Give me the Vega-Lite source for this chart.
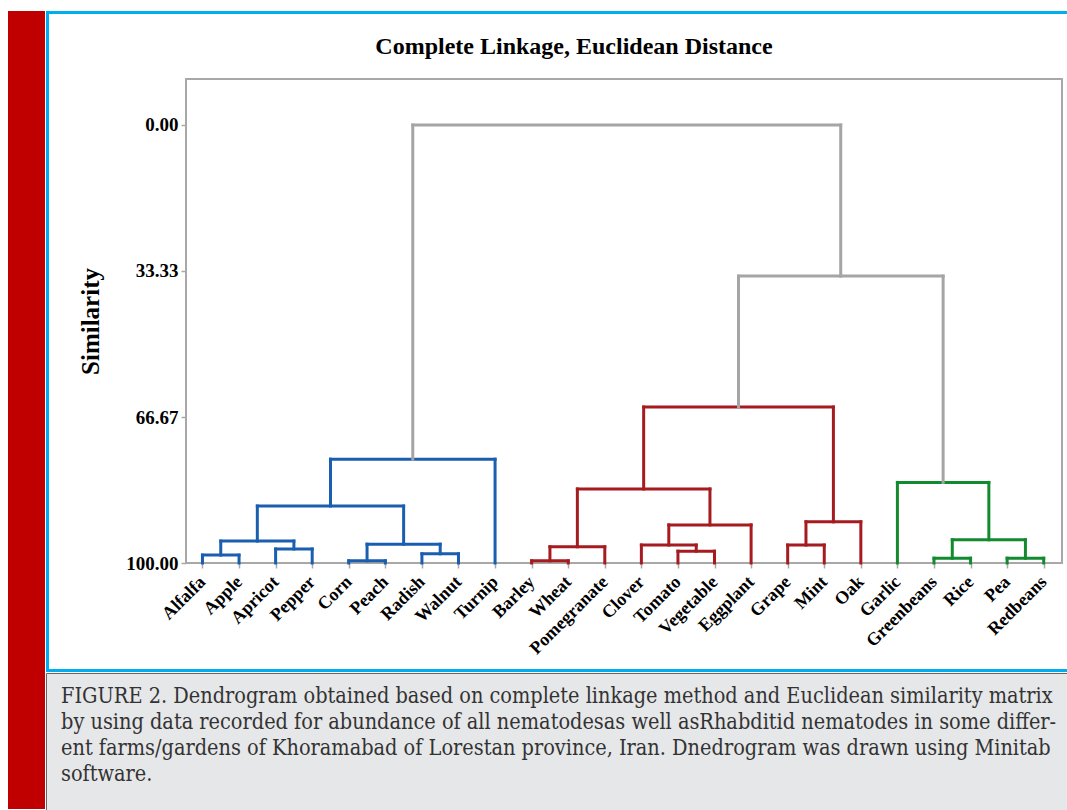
{
  "$schema": "https://vega.github.io/schema/vega-lite/v6.json",
  "background": "white",
  "padding": {"left": 8, "top": 11, "right": 0, "bottom": 0},
  "config": {"view": {"stroke": null}},
  "spacing": 0,
  "hconcat": [
    {"width": 37, "height": 798, "data": {"values": []}, "mark": "rect", "view": {"fill": "#c00000", "stroke": null}},
    {
      "spacing": 0,
      "vconcat": [
        {
          "columns": 4,
          "spacing": 0,
          "bounds": "flush",
          "align": "each",
          "concat": [
            {"width": 3, "height": 3, "data": {"values": []}, "mark": "rect", "view": {"fill": "#00aeef", "stroke": null}},
            {"width": 137, "height": 3, "data": {"values": []}, "mark": "rect", "view": {"fill": "#00aeef", "stroke": null}},
            {"width": 876, "height": 3, "data": {"values": []}, "mark": "rect", "view": {"fill": "#00aeef", "stroke": null}},
            {"width": 10, "height": 3, "data": {"values": []}, "mark": "rect", "view": {"fill": "#00aeef", "stroke": null}},

            {"width": 3, "height": 65, "data": {"values": []}, "mark": "rect", "view": {"fill": "#00aeef", "stroke": null}},
            {"width": 137, "height": 65, "data": {"values": []}, "mark": "rect"},
            {"width": 876, "height": 65, "data": {"values": []}, "mark": "rect"},
            {"width": 10, "height": 65, "data": {"values": []}, "mark": "rect"},

            {"width": 3, "height": 484, "data": {"values": []}, "mark": "rect", "view": {"fill": "#00aeef", "stroke": null}},
            {"width": 137, "height": 484, "data": {"values": []}, "mark": "rect"},
            {
              "width": 876,
              "height": 484,
              "view": {"stroke": "#a8a8a8", "strokeWidth": 2, "fill": null},
              "title": {"text": "Complete Linkage, Euclidean Distance", "font": "Liberation Serif", "fontSize": 24, "fontWeight": "bold", "color": "#000000", "frame": "group", "anchor": "middle", "dx": -50, "offset": 20},
              "data": {"values": [
                {"x": 0, "x2": 1, "y": 98.2, "y2": 98.2, "c": "blue"},
                {"x": 0, "x2": 0, "y": 100, "y2": 98.2, "c": "blue"},
                {"x": 1, "x2": 1, "y": 100, "y2": 98.2, "c": "blue"},
                {"x": 2, "x2": 3, "y": 96.8, "y2": 96.8, "c": "blue"},
                {"x": 2, "x2": 2, "y": 100, "y2": 96.8, "c": "blue"},
                {"x": 3, "x2": 3, "y": 100, "y2": 96.8, "c": "blue"},
                {"x": 0.5, "x2": 2.5, "y": 95.0, "y2": 95.0, "c": "blue"},
                {"x": 0.5, "x2": 0.5, "y": 98.2, "y2": 95.0, "c": "blue"},
                {"x": 2.5, "x2": 2.5, "y": 96.8, "y2": 95.0, "c": "blue"},
                {"x": 4, "x2": 5, "y": 99.5, "y2": 99.5, "c": "blue"},
                {"x": 4, "x2": 4, "y": 100, "y2": 99.5, "c": "blue"},
                {"x": 5, "x2": 5, "y": 100, "y2": 99.5, "c": "blue"},
                {"x": 6, "x2": 7, "y": 97.9, "y2": 97.9, "c": "blue"},
                {"x": 6, "x2": 6, "y": 100, "y2": 97.9, "c": "blue"},
                {"x": 7, "x2": 7, "y": 100, "y2": 97.9, "c": "blue"},
                {"x": 4.5, "x2": 6.5, "y": 95.7, "y2": 95.7, "c": "blue"},
                {"x": 4.5, "x2": 4.5, "y": 99.5, "y2": 95.7, "c": "blue"},
                {"x": 6.5, "x2": 6.5, "y": 97.9, "y2": 95.7, "c": "blue"},
                {"x": 1.5, "x2": 5.5, "y": 87.0, "y2": 87.0, "c": "blue"},
                {"x": 1.5, "x2": 1.5, "y": 95.0, "y2": 87.0, "c": "blue"},
                {"x": 5.5, "x2": 5.5, "y": 95.7, "y2": 87.0, "c": "blue"},
                {"x": 3.5, "x2": 8, "y": 76.3, "y2": 76.3, "c": "blue"},
                {"x": 3.5, "x2": 3.5, "y": 87.0, "y2": 76.3, "c": "blue"},
                {"x": 8, "x2": 8, "y": 100, "y2": 76.3, "c": "blue"},
                {"x": 9, "x2": 10, "y": 99.5, "y2": 99.5, "c": "red"},
                {"x": 9, "x2": 9, "y": 100, "y2": 99.5, "c": "red"},
                {"x": 10, "x2": 10, "y": 100, "y2": 99.5, "c": "red"},
                {"x": 9.5, "x2": 11, "y": 96.3, "y2": 96.3, "c": "red"},
                {"x": 9.5, "x2": 9.5, "y": 99.5, "y2": 96.3, "c": "red"},
                {"x": 11, "x2": 11, "y": 100, "y2": 96.3, "c": "red"},
                {"x": 13, "x2": 14, "y": 97.3, "y2": 97.3, "c": "red"},
                {"x": 13, "x2": 13, "y": 100, "y2": 97.3, "c": "red"},
                {"x": 14, "x2": 14, "y": 100, "y2": 97.3, "c": "red"},
                {"x": 12, "x2": 13.5, "y": 95.9, "y2": 95.9, "c": "red"},
                {"x": 12, "x2": 12, "y": 100, "y2": 95.9, "c": "red"},
                {"x": 13.5, "x2": 13.5, "y": 97.3, "y2": 95.9, "c": "red"},
                {"x": 12.75, "x2": 15, "y": 91.3, "y2": 91.3, "c": "red"},
                {"x": 12.75, "x2": 12.75, "y": 95.9, "y2": 91.3, "c": "red"},
                {"x": 15, "x2": 15, "y": 100, "y2": 91.3, "c": "red"},
                {"x": 10.25, "x2": 13.875, "y": 83.1, "y2": 83.1, "c": "red"},
                {"x": 10.25, "x2": 10.25, "y": 96.3, "y2": 83.1, "c": "red"},
                {"x": 13.875, "x2": 13.875, "y": 91.3, "y2": 83.1, "c": "red"},
                {"x": 16, "x2": 17, "y": 95.9, "y2": 95.9, "c": "red"},
                {"x": 16, "x2": 16, "y": 100, "y2": 95.9, "c": "red"},
                {"x": 17, "x2": 17, "y": 100, "y2": 95.9, "c": "red"},
                {"x": 16.5, "x2": 18, "y": 90.6, "y2": 90.6, "c": "red"},
                {"x": 16.5, "x2": 16.5, "y": 95.9, "y2": 90.6, "c": "red"},
                {"x": 18, "x2": 18, "y": 100, "y2": 90.6, "c": "red"},
                {"x": 12.0625, "x2": 17.25, "y": 64.4, "y2": 64.4, "c": "red"},
                {"x": 12.0625, "x2": 12.0625, "y": 83.1, "y2": 64.4, "c": "red"},
                {"x": 17.25, "x2": 17.25, "y": 90.6, "y2": 64.4, "c": "red"},
                {"x": 20, "x2": 21, "y": 98.9, "y2": 98.9, "c": "green"},
                {"x": 20, "x2": 20, "y": 100, "y2": 98.9, "c": "green"},
                {"x": 21, "x2": 21, "y": 100, "y2": 98.9, "c": "green"},
                {"x": 22, "x2": 23, "y": 98.9, "y2": 98.9, "c": "green"},
                {"x": 22, "x2": 22, "y": 100, "y2": 98.9, "c": "green"},
                {"x": 23, "x2": 23, "y": 100, "y2": 98.9, "c": "green"},
                {"x": 20.5, "x2": 22.5, "y": 94.7, "y2": 94.7, "c": "green"},
                {"x": 20.5, "x2": 20.5, "y": 98.9, "y2": 94.7, "c": "green"},
                {"x": 22.5, "x2": 22.5, "y": 98.9, "y2": 94.7, "c": "green"},
                {"x": 19, "x2": 21.5, "y": 81.6, "y2": 81.6, "c": "green"},
                {"x": 19, "x2": 19, "y": 100, "y2": 81.6, "c": "green"},
                {"x": 21.5, "x2": 21.5, "y": 94.7, "y2": 81.6, "c": "green"},
                {"x": 14.656, "x2": 20.25, "y": 34.5, "y2": 34.5, "c": "gray"},
                {"x": 14.656, "x2": 14.656, "y": 64.4, "y2": 34.5, "c": "gray"},
                {"x": 20.25, "x2": 20.25, "y": 81.6, "y2": 34.5, "c": "gray"},
                {"x": 5.75, "x2": 17.45, "y": 0, "y2": 0, "c": "gray"},
                {"x": 5.75, "x2": 5.75, "y": 76.3, "y2": 0, "c": "gray"},
                {"x": 17.45, "x2": 17.45, "y": 34.5, "y2": 0, "c": "gray"}
              ]},
              "mark": {"type": "rule", "strokeWidth": 3, "strokeCap": "square"},
              "encoding": {
                "x": {
                  "field": "x", "type": "quantitative",
                  "scale": {"domain": [-0.45, 23.5], "nice": false, "zero": false},
                  "axis": {
                    "title": null,
                    "values": [0,1,2,3,4,5,6,7,8,9,10,11,12,13,14,15,16,17,18,19,20,21,22,23],
                    "labelExpr": "['Alfalfa','Apple','Apricot','Pepper','Corn','Peach','Radish','Walnut','Turnip','Barley','Wheat','Pomegranate','Clover','Tomato','Vegetable','Eggplant','Grape','Mint','Oak','Garlic','Greenbeans','Rice','Pea','Redbeans'][datum.value]",
                    "labelAngle": -45, "labelAlign": "right", "labelBaseline": "middle",
                    "labelFont": "Liberation Serif", "labelFontWeight": "bold", "labelFontSize": 18, "labelColor": "#000000",
                    "labelPadding": 11, "labelFlush": false, "labelOverlap": false, "labelBound": false,
                    "tickColor": "#a8a8a8", "tickSize": 5, "tickWidth": 1.5, "domain": false, "grid": false
                  }
                },
                "x2": {"field": "x2"},
                "y": {
                  "field": "y", "type": "quantitative",
                  "scale": {"domain": [-10.5, 100], "reverse": true, "nice": false, "zero": false},
                  "axis": {
                    "title": "Similarity",
                    "values": [0, 33.33, 66.67, 100],
                    "format": ".2f",
                    "labelFont": "Liberation Serif", "labelFontWeight": "bold", "labelFontSize": 19, "labelColor": "#000000",
                    "labelPadding": 3, "labelFlush": false, "labelOverlap": false,
                    "titleFont": "Liberation Serif", "titleFontWeight": "bold", "titleFontSize": 25, "titleColor": "#000000",
                    "titlePadding": 22,
                    "tickColor": "#a8a8a8", "tickSize": 5, "tickWidth": 1.5, "domain": false, "grid": false
                  }
                },
                "y2": {"field": "y2"},
                "color": {
                  "field": "c", "type": "nominal", "legend": null,
                  "scale": {"domain": ["blue", "red", "green", "gray"], "range": ["#1a5eb0", "#a51b1f", "#128a2e", "#a5a5a5"]}
                }
              }
            },
            {"width": 10, "height": 484, "data": {"values": []}, "mark": "rect"},

            {"width": 3, "height": 106, "data": {"values": []}, "mark": "rect", "view": {"fill": "#00aeef", "stroke": null}},
            {"width": 137, "height": 106, "data": {"values": []}, "mark": "rect"},
            {"width": 876, "height": 106, "data": {"values": []}, "mark": "rect"},
            {"width": 10, "height": 106, "data": {"values": []}, "mark": "rect"},

            {"width": 3, "height": 3, "data": {"values": []}, "mark": "rect", "view": {"fill": "#00aeef", "stroke": null}},
            {"width": 137, "height": 3, "data": {"values": []}, "mark": "rect", "view": {"fill": "#00aeef", "stroke": null}},
            {"width": 876, "height": 3, "data": {"values": []}, "mark": "rect", "view": {"fill": "#00aeef", "stroke": null}},
            {"width": 10, "height": 3, "data": {"values": []}, "mark": "rect", "view": {"fill": "#00aeef", "stroke": null}}
          ]
        },
        {
          "width": 1026,
          "height": 137,
          "view": {"fill": "#e6e7e9", "stroke": "#666666", "strokeWidth": 1},
          "data": {"values": [
            {"line": 1, "text": "FIGURE 2. Dendrogram obtained based on complete linkage method and Euclidean similarity matrix"},
            {"line": 2, "text": "by using data recorded for abundance of all nematodesas well asRhabditid nematodes in some differ-"},
            {"line": 3, "text": "ent farms/gardens of Khoramabad of Lorestan province, Iran. Dnedrogram was drawn using Minitab"},
            {"line": 4, "text": "software."}
          ]},
          "mark": {"type": "text", "align": "left", "baseline": "alphabetic", "font": "DejaVu Serif Condensed, DejaVu Serif", "fontSize": 21.5, "color": "#333333"},
          "encoding": {
            "x": {"datum": 0, "type": "quantitative", "scale": {"domain": [-15, 1011], "nice": false, "zero": false}, "axis": null},
            "y": {"field": "line", "type": "quantitative", "scale": {"domain": [-0.1538, 5.1154], "reverse": true, "nice": false, "zero": false}, "axis": null},
            "text": {"field": "text"}
          }
        }
      ]
    }
  ]
}
